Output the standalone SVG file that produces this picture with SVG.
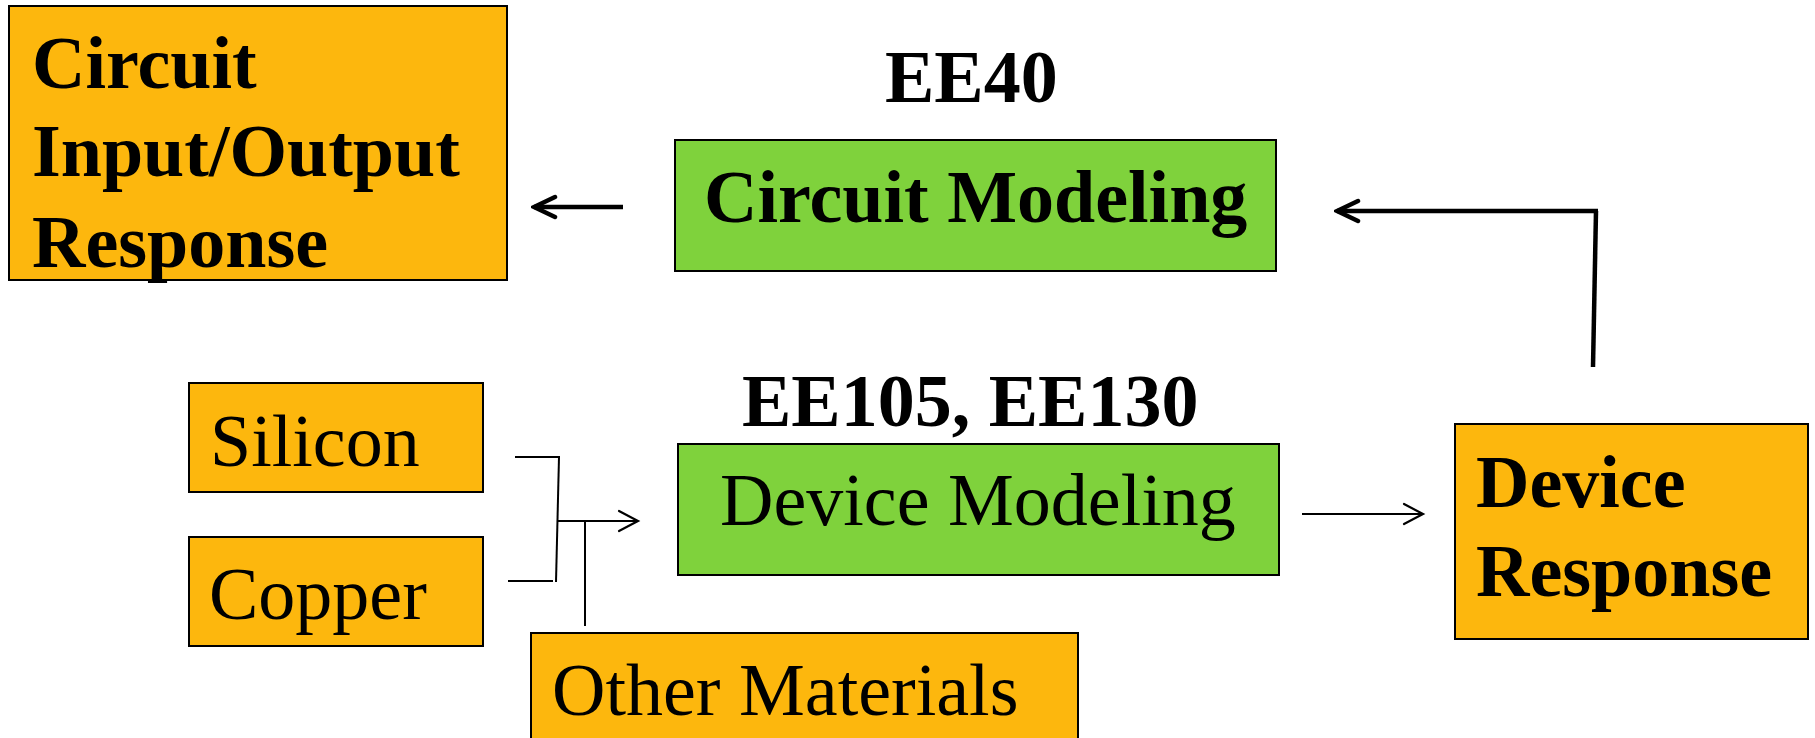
<svg xmlns="http://www.w3.org/2000/svg" width="1815" height="738" viewBox="0 0 1815 738">
<style>
.orange{fill:#FDB70D;stroke:#000;stroke-width:2}
.green{fill:#7FD23C;stroke:#000;stroke-width:2}
.b{font-family:"Liberation Serif","Times New Roman",serif;font-weight:bold;font-size:74px;fill:#000}
.r{font-family:"Liberation Serif","Times New Roman",serif;font-size:74px;fill:#000}
.thick{stroke:#000;stroke-width:4.5;fill:none}
.thin{stroke:#000;stroke-width:2;fill:none}
</style>
<defs>
<marker id="ahThick" markerUnits="userSpaceOnUse" viewBox="-25 -14 28 28" refX="0" refY="0" markerWidth="28" markerHeight="28" orient="auto">
<path d="M-21,-10 L0,0 L-21,10" fill="none" stroke="#000" stroke-width="4.5" stroke-linecap="round" stroke-linejoin="miter"/>
</marker>
<marker id="ahThin" markerUnits="userSpaceOnUse" viewBox="-22 -13 25 26" refX="0" refY="0" markerWidth="25" markerHeight="26" orient="auto">
<path d="M-19,-10 L0,0 L-19,10" fill="none" stroke="#000" stroke-width="2.2" stroke-linecap="round"/>
</marker>
</defs>
<rect width="1815" height="738" fill="#fff"/>

<g id="circuit-io-response">
<rect class="orange" x="9" y="6" width="498" height="274"/>
<text class="b" x="32" y="88">Circuit</text>
<text class="b" x="32" y="176">Input/Output</text>
<text class="b" x="32" y="267">Response</text>
</g>

<g id="ee40-label">
<text class="b" x="885" y="102">EE40</text>
</g>

<g id="circuit-modeling">
<rect class="green" x="675" y="140" width="601" height="131"/>
<text class="b" x="704" y="222">Circuit Modeling</text>
</g>

<g id="ee105-label">
<text class="b" x="742" y="426">EE105, EE130</text>
</g>

<g id="device-modeling">
<rect class="green" x="678" y="444" width="601" height="131"/>
<text class="r" x="720" y="525">Device Modeling</text>
</g>

<g id="silicon">
<rect class="orange" x="189" y="383" width="294" height="109"/>
<text class="r" x="210" y="466">Silicon</text>
</g>

<g id="copper">
<rect class="orange" x="189" y="537" width="294" height="109"/>
<text class="r" x="209" y="619">Copper</text>
</g>

<g id="other-materials">
<rect class="orange" x="531" y="633" width="547" height="120"/>
<text class="r" x="552" y="715">Other Materials</text>
</g>

<g id="device-response">
<rect class="orange" x="1455" y="424" width="353" height="215"/>
<text class="b" x="1476" y="507">Device</text>
<text class="b" x="1476" y="596">Response</text>
</g>

<g id="connectors">
<line class="thick" x1="623" y1="207" x2="534" y2="207" marker-end="url(#ahThick)"/>
<line class="thick" x1="1593" y1="367" x2="1596" y2="211"/>
<line class="thick" x1="1598" y1="211" x2="1337" y2="211" marker-end="url(#ahThick)"/>
<line class="thin" x1="515" y1="457" x2="560" y2="457"/>
<line class="thin" x1="559" y1="457" x2="556" y2="582"/>
<line class="thin" x1="508" y1="581" x2="553" y2="581"/>
<line class="thin" x1="557" y1="521" x2="638" y2="521" marker-end="url(#ahThin)"/>
<line class="thin" x1="585" y1="522" x2="585" y2="626"/>
<line class="thin" x1="1302" y1="514" x2="1423" y2="514" marker-end="url(#ahThin)"/>
</g>
</svg>
